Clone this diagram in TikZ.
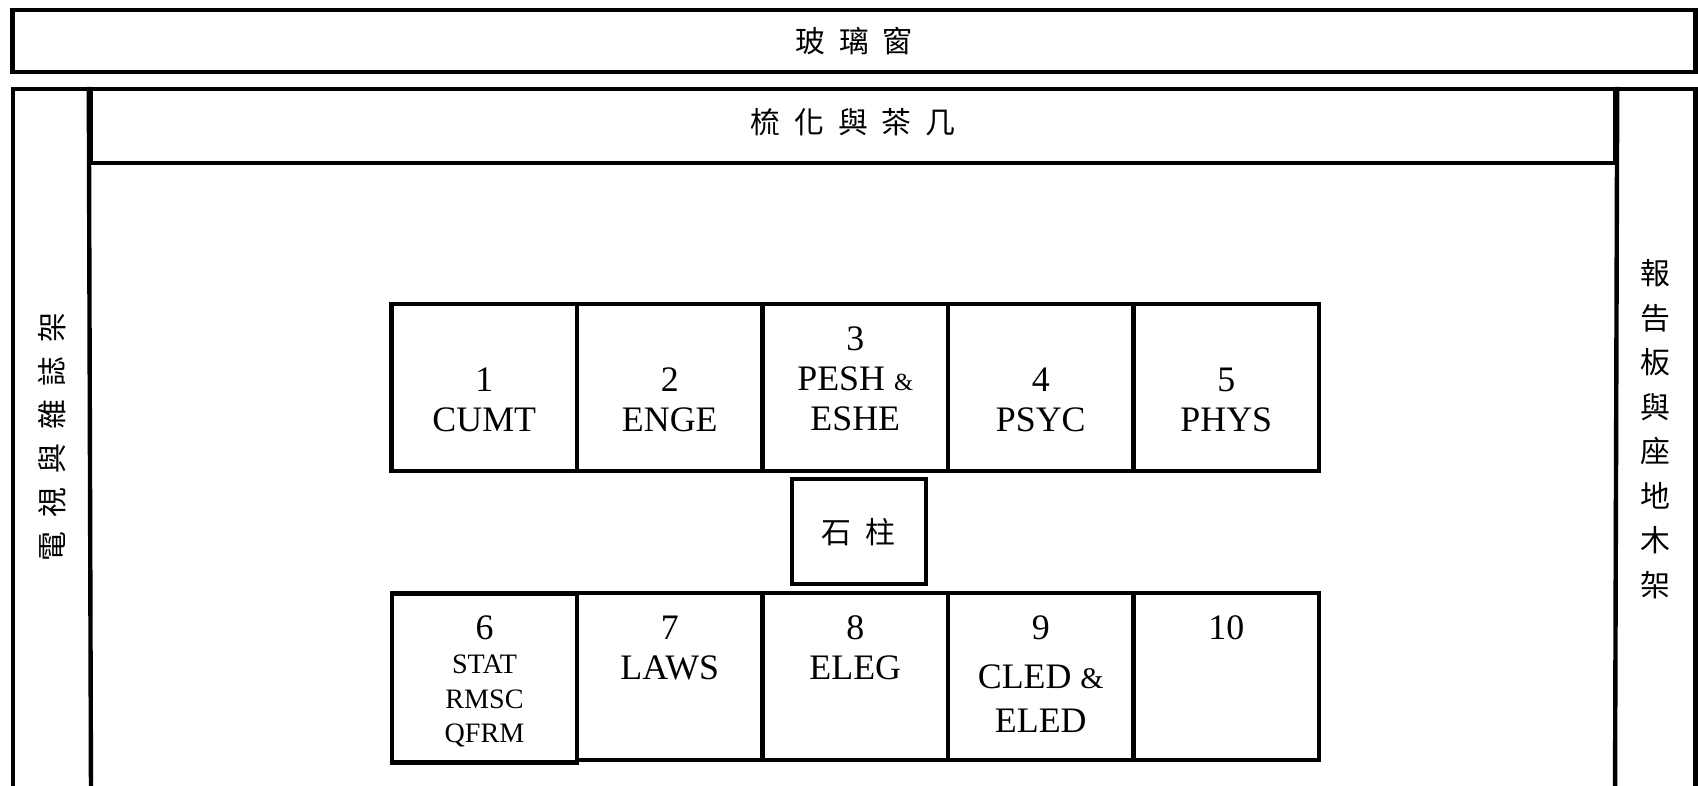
\documentclass[tikz,border=0pt]{standalone}
\usepackage{fontspec}
\setmainfont{Liberation Serif}
\newfontfamily\cjk[WordSpace=2.1]{Noto Sans CJK TC}
\usetikzlibrary{positioning}

\begin{document}
\begin{tikzpicture}[
	wall/.style={line width=1.25pt},
	shelf/.style={draw,rectangle,line width=1.25pt,minimum width=1.855cm,minimum height=1.67cm,inner sep=0pt,outer sep=0pt},
	zh/.style={font=\cjk\fontsize{8.5}{12.66}\selectfont},
	tag/.style={align=center,inner sep=0pt,font=\fontsize{10.2}{11.4}\selectfont}
	]
	\useasboundingbox (0,0) rectangle (16.98,7.85);
	\clip (0,0) rectangle (16.98,7.85);
	% window, sofa and the walls
	\node[draw,rectangle,wall,minimum width=16.83cm,minimum height=0.62cm,zh] (window) at (8.54,7.44) {玻 璃 窗};
	\node[draw,rectangle,wall,minimum width=15.24cm,minimum height=0.74cm,zh,text height=7.5pt,text depth=3.3pt] (sofa) at (8.53,6.59) {梳 化 與 茶 几};
	\draw[wall] (0.13,-0.1) |- (16.955,6.96) -- (16.955,-0.1);
	\draw[wall] (sofa.north west) -- (0.91,-0.1);
	\draw[wall] (sofa.north east) -- (16.15,-0.1);
	\node[zh,rotate=90] (tv) at (0.52,3.48) {電 視 與 雜 誌 架};
	\node[zh,align=center] (board) at (16.55,3.56) {報\\告\\板\\與\\座\\地\\木\\架};
	% front row
	\node[shelf] (s1) at (4.8425,3.9765) {};
	\node[shelf] (s2) at (6.6975,3.9765) {};
	\node[shelf] (s3) at (8.5525,3.9765) {};
	\node[shelf] (s4) at (10.4075,3.9765) {};
	\node[shelf] (s5) at (12.2625,3.9765) {};
	\node[tag,below=0.63cm of s1.north] (l1) {1\\CUMT};
	\node[tag,below=0.63cm of s2.north] (l2) {2\\ENGE};
	\node[tag,below=0.22cm of s3.north] (l3) {3\\PESH {\fontsize{7}{8}\selectfont\&}\\ESHE};
	\node[tag,below=0.63cm of s4.north] (l4) {4\\PSYC};
	\node[tag,below=0.63cm of s5.north] (l5) {5\\PHYS};
	% pillar
	\node[draw,rectangle,wall,minimum width=1.34cm,minimum height=1.05cm,zh] (pillar) at (8.587,2.532) {石 柱};
	% back row
	\node[shelf,minimum height=1.69cm] (s6) at (4.845,1.071) {};
	\node[shelf] (s7) at (6.6975,1.0855) {};
	\node[shelf] (s8) at (8.5525,1.0855) {};
	\node[shelf] (s9) at (10.4075,1.0855) {};
	\node[shelf] (s10) at (12.2625,1.0855) {};
	\node[tag,below=0.22cm of s6.north,font=\fontsize{8}{9.7}\selectfont] (l6) {{\fontsize{10.2}{11.4}\selectfont 6}\\STAT\\RMSC\\QFRM};
	\node[tag,below=0.22cm of s7.north] (l7) {7\\LAWS};
	\node[tag,below=0.22cm of s8.north] (l8) {8\\ELEG};
	\node[tag,below=0.22cm of s9.north] (l9) {9\\[0.09cm]CLED {\fontsize{8.5}{10}\selectfont\&}\\[0.04cm]ELED};
	\node[tag,below=0.22cm of s10.north] (l10) {10};
\end{tikzpicture}
\end{document}
